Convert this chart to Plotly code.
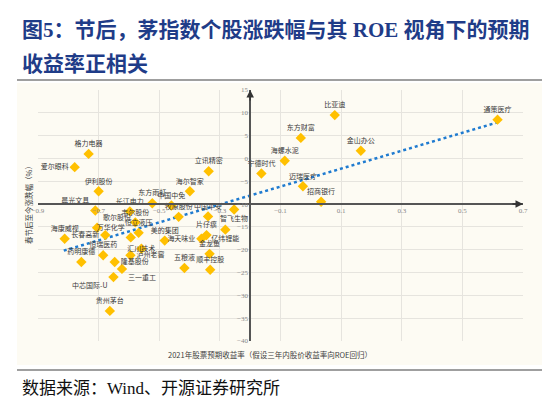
import plotly.graph_objects as go

# ---------------- data ----------------
names = ["通策医疗", "比亚迪", "东方财富", "金山办公", "海螺水泥", "宁德时代", "迈瑞医疗", "招商银行",
         "智飞生物", "格力电器", "爱尔眼科", "伊利股份", "立讯精密", "海尔智家", "东方雨虹", "中国中免",
         "晨光文具", "长江电力", "韦尔股份", "牧原股份", "中国平安", "亿纬锂能", "片仔癀", "海天味业",
         "美的集团", "歌尔股份", "海康威视", "长春高新", "万华化学", "恒立液压", "恒瑞医药", "药明康德",
         "隆基股份", "泸州老窖", "汇川技术", "三一重工", "中芯国际-U", "贵州茅台", "五粮液", "顺丰控股",
         "金龙鱼"]
exp_return = [0.616, 0.079, -0.033, 0.165, -0.086, -0.163, -0.026, 0.034,
              -0.253, -0.733, -0.779, -0.700, -0.337, -0.399, -0.523, -0.460,
              -0.711, -0.597, -0.579, -0.436, -0.339, -0.282, -0.344, -0.361,
              -0.482, -0.705, -0.812, -0.678, -0.594, -0.568, -0.685, -0.757,
              -0.647, -0.595, -0.559, -0.623, -0.651, -0.663, -0.417, -0.332,
              -0.334]
chg_pct = [8.5, 9.5, 4.5, 1.7, -0.5, -3.3, -6.1, -9.5,
           -11.2, 1.0, -1.9, -7.2, -2.8, -7.2, -9.8, -10.3,
           -11.4, -11.6, -14.0, -12.8, -12.7, -15.6, -16.8, -17.6,
           -18.0, -15.2, -17.6, -16.8, -17.3, -16.3, -21.2, -22.7,
           -22.7, -21.2, -19.8, -24.2, -26.0, -33.4, -24.0, -24.4,
           -20.9]
label_pos = ["top center", "top center", "top center", "top center", "top center", "top center",
             "top center", "top center", "bottom center", "top center", "middle left", "top center",
             "top center", "top center", "top center", "top center", "top left", "top center",
             "top center", "top center", "top center", "bottom center", "top center", "middle left",
             "top center", "top right", "top center", "middle left", "top left", "top center",
             "top center", "top center", "middle right", "middle right", "middle center",
             "bottom right", "bottom left", "top center", "top center", "top center", "top center"]
trend_x = [-0.815, 0.616]
trend_y = [-20.2, 7.9]

x_range = [-0.9, 0.7]
y_range = [-40, 15]
x_cross = -10      # horizontal axis drawn at y = -10
y_cross = -0.2     # vertical axis drawn at x = -0.2

title_1 = "<b>图5：节后，茅指数个股涨跌幅与其 ROE 视角下的预期</b>"
title_2 = "<b>收益率正相关</b>"
x_title = "2021年股票预期收益率（假设三年内股价收益率向ROE回归）"
y_title = "春节后至今涨跌幅（%）"
source = "数据来源：Wind、开源证券研究所"

# ---------------- layout helpers ----------------
W, H = 550, 397
L, R, T, B = 30, 35, 82, 64
PW, PH = W - L - R, H - T - B


def xp(px):
    return (px - L) / PW


def yp(py):
    return (H - B - py) / PH


CJK = "Noto Sans CJK SC"
SERIF_CJK = "Liberation Serif, Noto Sans CJK SC"
CREAM = "#FDFBF3"

fig = go.Figure()

fig.add_trace(go.Scatter(
    x=trend_x, y=trend_y, mode="lines",
    line=dict(color="#1F7BD0", width=2.5, dash="dot"),
    hoverinfo="skip", showlegend=False))

fig.add_trace(go.Scatter(
    x=exp_return, y=chg_pct, mode="markers+text",
    text=names, textposition=label_pos,
    textfont=dict(family=CJK, size=7, color="#3A3A3A"),
    marker=dict(symbol="diamond", size=8, color="#FFC000"),
    cliponaxis=False, showlegend=False))

fig.update_layout(
    width=W, height=H,
    margin=dict(l=L, r=R, t=T, b=B),
    paper_bgcolor="white",
    plot_bgcolor=CREAM,
    showlegend=False,
    font=dict(family=CJK),
    xaxis=dict(range=x_range, tick0=-0.9, dtick=0.2, tickformat=".1f",
               showgrid=True, gridcolor="#E6E4DE", gridwidth=1,
               zeroline=False, showline=True, linecolor="#555555", linewidth=1.5,
               anchor="free", position=(x_cross - y_range[0]) / (y_range[1] - y_range[0]),
               ticks="", tickfont=dict(family="Liberation Serif", size=7, color="#888888")),
    yaxis=dict(range=y_range, tick0=-40, dtick=5,
               showgrid=True, gridcolor="#E6E4DE", gridwidth=1,
               zeroline=False, showline=True, linecolor="#555555", linewidth=1.5,
               anchor="free", position=(y_cross - x_range[0]) / (x_range[1] - x_range[0]),
               ticks="", tickfont=dict(family="Liberation Serif", size=7, color="#888888")),
)

shapes = [
    dict(type="rect", xref="paper", yref="paper", x0=xp(9), x1=xp(537), y0=yp(357), y1=yp(75),
         fillcolor=CREAM, line=dict(width=0), layer="below"),
    dict(type="line", xref="paper", yref="paper", x0=xp(9), x1=xp(539), y0=yp(72), y1=yp(72),
         line=dict(color="#7F7F7F", width=1.5)),
    dict(type="line", xref="paper", yref="paper", x0=xp(9), x1=xp(539), y0=yp(362), y1=yp(362),
         line=dict(color="#7F7F7F", width=1.5)),
]
fig.update_layout(shapes=shapes)

annotations = [
    dict(text=title_1, x=xp(12), y=yp(22), xref="paper", yref="paper", xanchor="left", yanchor="middle",
         showarrow=False, font=dict(family=SERIF_CJK, size=21, color="#1F3C88")),
    dict(text=title_2, x=xp(12), y=yp(56), xref="paper", yref="paper", xanchor="left", yanchor="middle",
         showarrow=False, font=dict(family=SERIF_CJK, size=21, color="#1F3C88")),
    dict(text=source, x=xp(12), y=yp(380), xref="paper", yref="paper", xanchor="left", yanchor="middle",
         showarrow=False, font=dict(family=SERIF_CJK, size=17, color="#111111")),
    dict(text=x_title, x=xp(262), y=yp(346), xref="paper", yref="paper", xanchor="center", yanchor="middle",
         showarrow=False, font=dict(family=CJK, size=7.5, color="#404040")),
    dict(text=y_title, x=xp(20), y=yp(195), xref="paper", yref="paper", xanchor="center", yanchor="middle",
         textangle=-90, showarrow=False, font=dict(family=CJK, size=7.5, color="#404040")),
    # axis arrows
    dict(x=x_range[1], y=x_cross, xref="x", yref="y", ax=-12, ay=0, text="", showarrow=True,
         arrowhead=2, arrowsize=1, arrowwidth=1.5, arrowcolor="#333333"),
    dict(x=y_cross, y=y_range[1], xref="x", yref="y", ax=0, ay=12, text="", showarrow=True,
         arrowhead=2, arrowsize=1, arrowwidth=1.5, arrowcolor="#333333"),
]
fig.update_layout(annotations=annotations)

fig.write_html("out.html")
